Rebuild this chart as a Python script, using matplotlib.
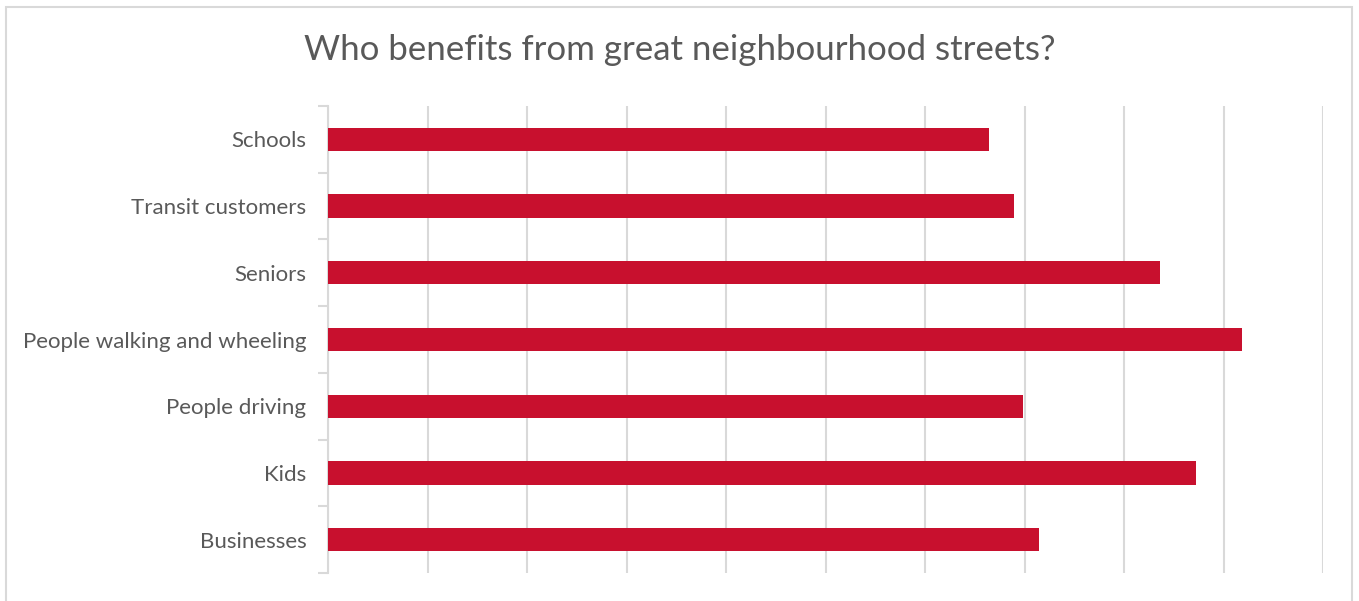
import matplotlib
matplotlib.use("Agg")
import matplotlib.pyplot as plt
from matplotlib.patches import Rectangle

categories = ["Schools", "Transit customers", "Seniors", "People walking and wheeling",
              "People driving", "Kids", "Businesses"]
values = [66.4, 68.9, 83.6, 91.9, 69.8, 87.2, 71.5]

plt.rcParams['font.family'] = ['Lato', 'DejaVu Sans']
text_color = "#595959"
grid_color = "#d9d9d9"
bar_color = "#C8102E"

fig = plt.figure(figsize=(13.59, 6.01), dpi=100)
ax = fig.add_axes([328/1359, 1-573/601, (1323-328)/1359, (573-106)/601])

n = len(categories)
ypos = list(range(n))
ax.barh(ypos, values, height=0.35, color=bar_color, zorder=3)
ax.set_ylim(n - 0.5, -0.5)
ax.set_xlim(0, 100)
ax.set_xticks(range(0, 101, 10))
ax.xaxis.grid(True, color=grid_color, linewidth=1.5, zorder=0)
ax.tick_params(axis='x', length=0, labelbottom=False)

ax.set_yticks(ypos)
ax.set_yticklabels(categories, fontsize=16, color=text_color)
ax.set_yticks([i - 0.5 for i in range(n + 1)], minor=True)
ax.tick_params(axis='y', which='major', length=0, pad=15.5)
ax.tick_params(axis='y', which='minor', length=7, width=1.5, color=grid_color)

for s in ["top", "right", "bottom"]:
    ax.spines[s].set_visible(False)
ax.spines["left"].set_color(grid_color)
ax.spines["left"].set_linewidth(1.5)

fig.text(0.5, 1-50/601, "Who benefits from great neighbourhood streets?", ha="center",
         va="center", fontsize=25.1, color=text_color)

fig.patches.append(Rectangle((6/1359, -0.05), (1352-6)/1359, 1.05-7/601, transform=fig.transFigure,
                             fill=False, edgecolor=grid_color, linewidth=1.5))

fig.savefig("out.png", dpi=100)
